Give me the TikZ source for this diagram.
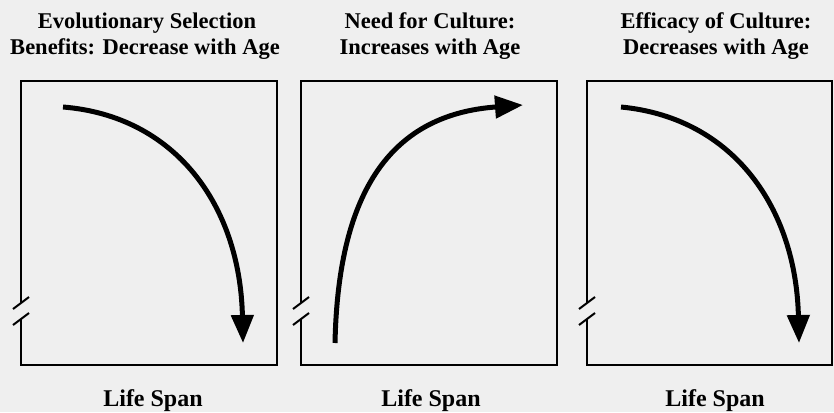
\documentclass[tikz,border=0pt]{standalone}
\usepackage{fontspec}
\setmainfont{Liberation Serif}
\usetikzlibrary{arrows.meta}
\definecolor{bgcol}{RGB}{239,239,239}
\tikzset{
  frame/.style={line width=2pt, black},
  brk/.style={line width=2pt, black},
  curvearrow/.style={line width=5pt, black, -{Triangle[length=28pt,width=22pt]}},
  title/.style={anchor=base, inner sep=0pt, font=\fontsize{22.5}{26}\selectfont\bfseries},
  axislabel/.style={anchor=base, inner sep=0pt, font=\fontsize{24}{28}\selectfont\bfseries}
}
\begin{document}
\begin{tikzpicture}[x=1pt, y=-1pt]
\fill[bgcol] (0,0) rectangle (834,412);
\useasboundingbox (0,0) rectangle (834,412);

% titles
\node[title] (t1a) at (147,29) {Evolutionary Selection};
\node[title] (t1b) at (145,55) {Benefits: Decrease with Age};
\node[title] (t2a) at (430,29) {Need for Culture:};
\node[title] (t2b) at (430,55) {Increases with Age};
\node[title] (t3a) at (716,29) {Efficacy of Culture:};
\node[title] (t3b) at (716,55) {Decreases with Age};

% boxes with broken left edge
\foreach \l/\r in {21/277, 301/557, 587/832}{
  \draw[frame] (\l,303) -- (\l,81) -- (\r,81) -- (\r,365) -- (\l,365) -- (\l,319);
  \draw[brk] (\l-8,309) -- (\l+8,297);
  \draw[brk] (\l-8,325) -- (\l+8,313);
}

% curves
\coordinate (c1s) at (63,107);
\coordinate (c1e) at (243,343);
\coordinate (c2s) at (335,343);
\coordinate (c2e) at (523,105);
\coordinate (c3s) at (621,107);
\coordinate (c3e) at (799,343);

\draw[curvearrow] (c1s) .. controls (175,116) and (240,205) .. (c1e);
\draw[curvearrow] (c2s) .. controls (338,200) and (385,115) .. (c2e);
\draw[curvearrow] (c3s) .. controls (735,118) and (796,210) .. (c3e);

% axis labels
\node[axislabel] (l1) at (153,406) {Life Span};
\node[axislabel] (l2) at (431,406) {Life Span};
\node[axislabel] (l3) at (715,406) {Life Span};
\end{tikzpicture}
\end{document}
